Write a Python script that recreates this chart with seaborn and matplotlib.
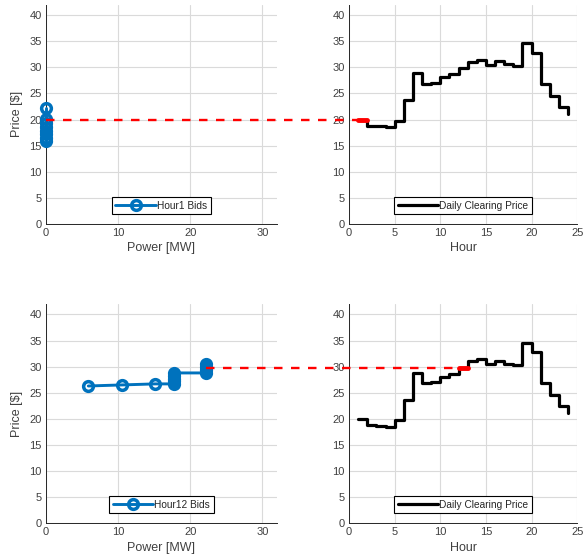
import matplotlib
matplotlib.use("Agg")
import matplotlib.pyplot as plt
import seaborn as sns
from matplotlib.lines import Line2D

# ---------------- data ----------------
hours = list(range(1, 25))
clearing_price = [19.9, 18.8, 18.7, 18.5, 19.8, 23.7, 28.85, 26.9, 27.05, 28.1,
                  28.65, 29.8, 31.1, 31.5, 30.45, 31.15, 30.6, 30.25, 34.6, 32.8,
                  26.8, 24.5, 22.4, 21.15]

hour1_power = [0, 0, 0, 0, 0, 0, 0, 0]
hour1_price = [15.9, 16.5, 17.2, 17.9, 18.6, 19.3, 20.1, 22.2]

hour12_power = [5.87, 10.5, 15.1, 17.75, 17.75, 17.75, 17.75, 17.75, 22.2, 22.2, 22.2, 22.2]
hour12_price = [26.3, 26.5, 26.7, 26.7, 27.2, 27.7, 28.2, 28.8, 28.8, 29.4, 30.0, 30.6]

selected_hours = [1, 12]
bid_labels = ["Hour1 Bids", "Hour12 Bids"]
bid_power = [hour1_power, hour12_power]
bid_price = [hour1_price, hour12_price]

power_ticks = [0, 10, 20, 30]
hour_ticks = [0, 5, 10, 15, 20, 25]
price_ticks = [0, 5, 10, 15, 20, 25, 30, 35, 40]

# ---------------- style ----------------
sns.set_style("white")
plt.rcParams["font.family"] = ["Liberation Sans", "DejaVu Sans"]
plt.rcParams["axes.edgecolor"] = "#262626"
plt.rcParams["axes.linewidth"] = 0.7

BLUE = "#0072BD"
GRID = "#dadada"
TXT = "#262626"

fig = plt.figure(figsize=(5.83, 5.57), dpi=100)

positions = {
    (0, 0): [0.0789, 0.5978, 0.3957, 0.3938],
    (0, 1): [0.5986, 0.5978, 0.3916, 0.3938],
    (1, 0): [0.0789, 0.0605, 0.3957, 0.3937],
    (1, 1): [0.5986, 0.0605, 0.3916, 0.3937],
}


def style_axes(ax, xticks, xlim):
    ax.set_xlim(*xlim)
    ax.set_ylim(0, 42)
    ax.set_xticks(xticks)
    ax.set_yticks(price_ticks)
    ax.grid(True, color=GRID, linewidth=0.8)
    ax.set_axisbelow(True)
    for s in ["top", "right"]:
        ax.spines[s].set_visible(False)
    ax.tick_params(direction="in", length=2.5, width=0.6, colors=TXT,
                   labelsize=8, pad=3)
    for lab in ax.get_xticklabels() + ax.get_yticklabels():
        lab.set_color("#404040")


def add_legend(ax):
    leg = ax.legend(loc="lower center", bbox_to_anchor=(0.5, 0.045), fontsize=7.3,
                    frameon=True, fancybox=False, framealpha=1, edgecolor="black",
                    handlelength=4.0, handletextpad=0.1, borderpad=0.35,
                    borderaxespad=0)
    leg.get_frame().set_linewidth(0.8)


for row, (hour, lbl, pw, pr) in enumerate(zip(selected_hours, bid_labels, bid_power, bid_price)):
    axl = fig.add_axes(positions[(row, 0)])
    axr = fig.add_axes(positions[(row, 1)])

    # bids
    sns.lineplot(x=pw, y=pr, ax=axl, estimator=None, sort=False, color=BLUE,
                 linewidth=2.1, marker="o", markersize=7, markerfacecolor="none",
                 markeredgecolor=BLUE, markeredgewidth=2.5, label=lbl, clip_on=False,
                 zorder=3)
    style_axes(axl, power_ticks, (0, 32))
    axl.set_xlabel("Power [MW]", fontsize=9, color="#404040", labelpad=3)
    axl.set_ylabel("Price [\\$]", fontsize=9, color="#404040", labelpad=5)
    add_legend(axl)

    # daily clearing price
    sns.lineplot(x=hours, y=clearing_price, ax=axr, estimator=None, color="black",
                 linewidth=2.3, drawstyle="steps-post", label="Daily Clearing Price",
                 zorder=3)
    p = clearing_price[hours.index(hour)]
    sns.lineplot(x=[hour, hour + 1], y=[p, p], ax=axr, estimator=None, color="red",
                 linewidth=3.5, zorder=4, legend=False)
    style_axes(axr, hour_ticks, (0, 25))
    axr.set_xlabel("Hour", fontsize=9, color="#404040", labelpad=3)
    axr.set_ylabel("")
    add_legend(axr)

    # dashed connector from end of bid curve to the clearing price of the hour
    start = axl.transData.transform((max(pw), p))
    end = axr.transData.transform((hour, p))
    inv = fig.transFigure.inverted()
    s = inv.transform(start)
    e = inv.transform(end)
    fig.add_artist(Line2D([s[0], e[0]], [s[1], e[1]], transform=fig.transFigure,
                          color="red", linewidth=1.7, linestyle=(0, (3.6, 3.6)),
                          zorder=10))

fig.savefig("out.png", dpi=100)
